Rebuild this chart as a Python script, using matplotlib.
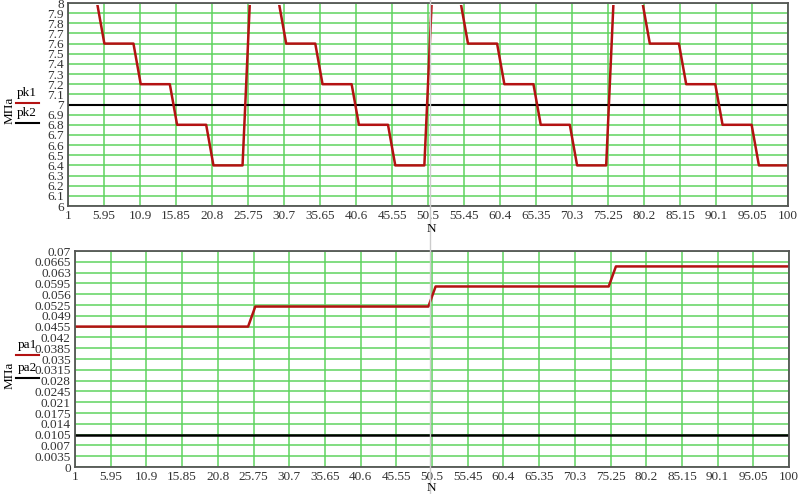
import numpy as np
import matplotlib.pyplot as plt
from matplotlib.lines import Line2D
from matplotlib.patches import Rectangle

plt.rcParams['font.family'] = ['Liberation Serif', 'DejaVu Serif']

# N = 1..100, values read per block of 5 points
N = np.arange(1, 101)
pk1_levels = [8.0, 7.6, 7.2, 6.8, 6.4] * 4
pk2_value = 7.0
pa1_levels = [0.0455, 0.052, 0.0585, 0.065]
pa2_value = 0.0105

pk1 = np.repeat(pk1_levels, 5)
pk2 = np.full(N.size, pk2_value)
pa1 = np.repeat(pa1_levels, 25)
pa2 = np.full(N.size, pa2_value)

xticks = np.round(np.linspace(1, 100, 21), 2)
xlabels = ['%g' % v for v in xticks]
yticks_top = np.round(np.linspace(6, 8, 21), 2)
yticks_bot = np.round(np.linspace(0, 0.07, 21), 4)

W, H = 800, 494
fig = plt.figure(figsize=[8, 4.94], dpi=100)
ax1 = fig.add_axes([68/W, 1-206/H, 720/W, 203/H])
ax2 = fig.add_axes([75/W, 1-467/H, 714/W, 216/H])

red = '#b31212'
grid_c = '#5fd35f'

def fx(px):
    return px / W
def fy(py):
    return 1 - py / H

def style(ax, yt):
    ax.set_xlim(1, 100)
    ax.set_xticks(xticks)
    ax.set_xticklabels(xlabels)
    ax.set_yticks(yt)
    ax.set_yticklabels(['%g' % v for v in yt])
    ax.set_ylim(yt[0], yt[-1])
    ax.grid(True, color=grid_c, lw=1.1)
    ax.set_axisbelow(True)
    ax.tick_params(length=0, labelsize=9.5, pad=3, colors='#333333')
    for s in ax.spines.values():
        s.set_color('#555555')
        s.set_linewidth(1.3)
        s.set_zorder(6)

ax1.plot(N, pk2, c='k', lw=1.5, zorder=3)
l1, = ax1.plot(N, pk1, c=red, lw=1.8, zorder=4)
# clip a bit below the top border so the 8.0 plateau hides under it, as in the original
clip = Rectangle((0, 0), 1, 1 - 1.6/203, transform=ax1.transAxes, visible=False)
ax1.add_patch(clip)
l1.set_clip_path(clip)
style(ax1, yticks_top)

ax2.plot(N, pa2, c='k', lw=1.8, zorder=3)
ax2.plot(N, pa1, c=red, lw=1.8, zorder=4)
style(ax2, yticks_bot)

fig.text(fx(431), fy(229), 'N', fontsize=9.5, ha='center', va='center')
fig.text(fx(431), fy(488), 'N', fontsize=9.5, ha='center', va='center')

# legend-like labels at left
fig.text(fx(10), fy(110), 'МПа', rotation=90, fontsize=9.5, ha='center', va='center')
fig.text(fx(27), fy(93), 'pk1', fontsize=9.5, ha='center', va='center')
fig.add_artist(Line2D([fx(16), fx(39)], [fy(103), fy(103)], color=red, lw=1.5))
fig.text(fx(27), fy(113), 'pk2', fontsize=9.5, ha='center', va='center')
fig.add_artist(Line2D([fx(16), fx(39)], [fy(123), fy(123)], color='k', lw=1.5))

fig.text(fx(10), fy(375), 'МПа', rotation=90, fontsize=9.5, ha='center', va='center')
fig.text(fx(27), fy(345), 'pa1', fontsize=9.5, ha='center', va='center')
fig.add_artist(Line2D([fx(16), fx(39)], [fy(355), fy(355)], color=red, lw=1.5))
fig.text(fx(27), fy(368), 'pa2', fontsize=9.5, ha='center', va='center')
fig.add_artist(Line2D([fx(16), fx(39)], [fy(378), fy(378)], color='k', lw=1.5))

# light grey cursor line across the picture
fig.add_artist(Line2D([fx(430), fx(430)], [0, 1], color='#cccccc', lw=1))

plt.savefig('out.png', dpi=100)
